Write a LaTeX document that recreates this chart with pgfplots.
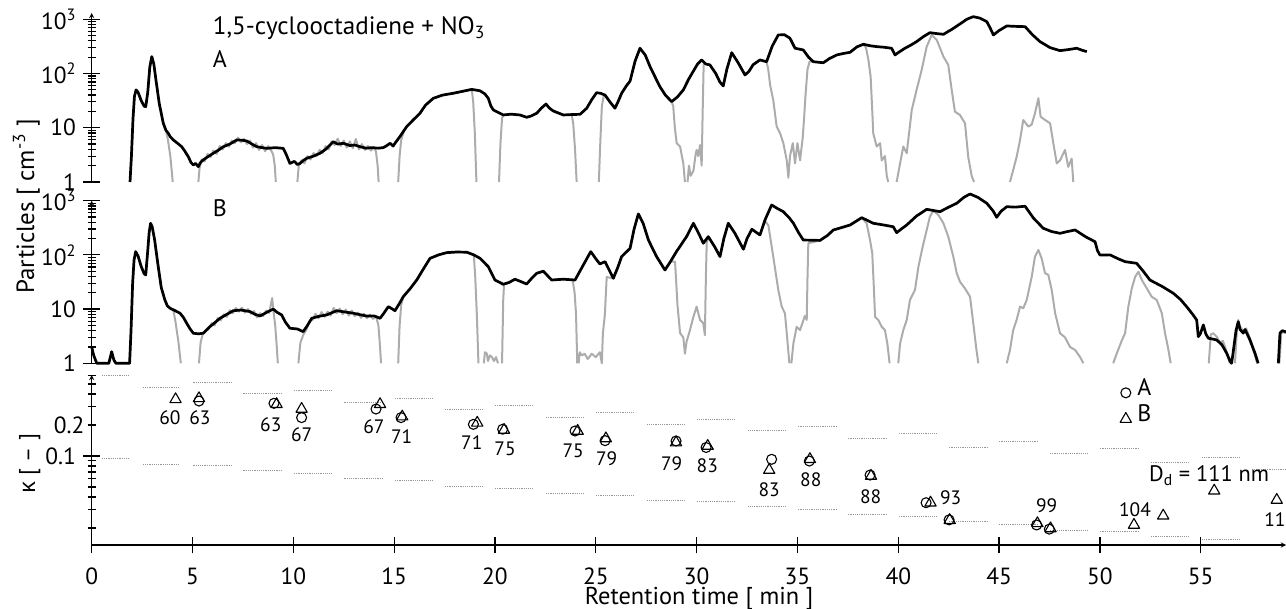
\documentclass[border=0pt]{standalone}
\usepackage{pgfplots}
\pgfplotsset{compat=1.18}
\usepackage{fontspec}
\setmainfont{PT Sans}
\newfontfamily\grk{Open Sans}
\definecolor{lgray}{RGB}{172,172,172}
\definecolor{dgray}{RGB}{150,150,150}
\newcommand{\fs}[1]{\fontsize{#1}{#1}\selectfont}
\pgfplotsset{
  every axis/.append style={
    scale only axis, width=1194.3bp, xmin=0, xmax=59.23,
    tick label style={font=\fs{23.5}},
    yticklabel style={inner sep=1bp, xshift=-6bp},
    axis line style={line width=1.3bp,-},
    tick style={line width=1.2bp, black},
    tick align=inside,
    clip=false,
    unbounded coords=jump,
  },
  every axis plot/.append style={line join=round},
}
\tikzset{
  blk/.style={black, line width=2.7bp},
  gry/.style={lgray, line width=2.0bp},
}
\begin{document}
\begin{tikzpicture}[x=1bp,y=1bp]
% ---------------- Panel A ----------------
\begin{axis}[at={(91.7bp,427bp)}, anchor=south west, height=169bp,
    ymode=log, ymin=1, ymax=1306,
    axis x line=none, axis y line=left,
    xtick=\empty,
    ytick={1,10,100,1000},
    yticklabels={1,10,10\textsuperscript{2},10\textsuperscript{3}},
    minor ytick={2,3,4,5,6,7,8,9,20,30,40,50,60,70,80,90,200,300,400,500,600,700,800,900},
    major tick length=17bp, minor tick length=8bp]
\addplot[gry, no marks] coordinates {
(1.9,1)(1.97,3)(2.05,15)(2.12,38)(2.2,50)(2.3,45)(2.45,32)(2.6,25)(2.68,24.5)(2.78,45)(2.88,130)(2.98,205)(3.08,150)(3.2,70)(3.35,28)(3.55,12.1)(3.68,9)(3.78,6)(3.9,3)(4.02,1)
(4.05,nan)
(5.29,1)(5.35,1.8)(5.45,2.6)(5.6,2.4)(5.75,3.3)(5.9,2.9)(6.03,3.8)(6.2,3.3)(6.35,4.6)(6.5,4.0)(6.65,5.2)(6.8,4.5)(6.95,5.8)(7.1,5.2)(7.25,6.6)(7.4,5.4)(7.55,6.2)(7.7,5.0)(7.85,5.8)(8.0,4.3)(8.15,5.2)(8.3,3.9)(8.45,4.8)(8.6,3.7)(8.75,4.6)(8.9,3.8)(9.0,3.2)(9.08,2)(9.13,1)
(9.2,nan)
(10.2,1)(10.27,2.0)(10.4,2.5)(10.55,2.2)(10.7,3.0)(10.85,2.6)(11.0,3.4)(11.15,3.0)(11.3,3.9)(11.45,3.4)(11.6,4.6)(11.75,4.0)(11.9,5.6)(12.05,4.8)(12.2,6.3)(12.35,4.6)(12.5,5.8)(12.65,4.3)(12.8,5.6)(12.95,4.2)(13.1,6.2)(13.25,4.0)(13.4,5.0)(13.55,3.9)(13.7,4.6)(13.85,3.8)(14.0,4.4)(14.1,3.6)(14.18,2)(14.23,1)
(14.3,nan)
(15.2,1)(15.27,3)(15.35,6)(15.5,9)(15.62,10.5)(15.95,14)(16.28,18.5)(16.55,26)(16.94,34.9)(17.4,40)(17.93,43.2)(18.4,47)(18.85,51)(18.92,30)(19.0,8)(19.08,1)
(19.1,nan)
(20.2,1)(20.27,5)(20.35,15)(20.41,17.2)(20.8,17.8)(21.24,17.2)(21.57,15.6)(21.8,16.5)(22.07,18.5)(22.3,23)(22.53,27.4)(22.7,23)(22.89,20.4)(23.39,17.2)(23.8,17.5)(23.88,12)(23.97,4)(24.05,1)
(24.1,nan)
(25.15,1)(25.22,5)(25.3,25)(25.4,40)(25.46,40)(25.7,30)(25.95,22.9)(26.1,30)(26.28,43.2)(26.5,58)(26.7,72.8)(26.95,170)(27.19,292)(27.45,220)(27.69,134)(27.95,85)(28.18,57.2)(28.45,40)(28.76,30.3)(28.84,25)(28.92,10)(29.01,5.2)(29.18,4.5)(29.34,2.2)(29.42,1)
(29.5,nan)
(29.55,1)(29.62,2.0)(29.7,1.3)(29.84,1.6)(29.95,3.2)(30.0,3.9)(30.08,3.0)(30.17,4.8)(30.25,2.0)(30.3,20)(30.35,150)(30.45,150)(30.66,144)(30.95,100)(31.15,70)(31.32,59)(31.5,120)(31.74,242)(32.05,160)(32.4,94)(32.6,110)(32.8,145)(33.14,178)(33.47,165)(33.55,120)(33.65,60)(33.8,32.5)(33.97,10.5)(34.14,7.9)(34.3,5.2)(34.47,2.5)(34.55,1.2)(34.63,3)(34.77,5.2)(34.88,2.2)(35.0,5.2)(35.13,2.5)(35.26,6.5)(35.33,15)(35.4,40)(35.5,120)(35.6,165)(35.79,165)(36.28,158)(36.6,190)(36.95,220)(37.3,235)(37.61,246)(37.95,310)(38.27,346)(38.4,300)(38.52,178)(38.63,87)(38.7,25)(38.76,7.9)(38.93,4.5)(39.1,5.2)(39.18,2.5)(39.34,3.0)(39.43,1.3)(39.5,1)
(39.6,nan)
(39.92,1)(40.09,2.2)(40.25,4.5)(40.42,3.4)(40.67,21.3)(40.91,50)(41.16,116)(41.41,313)(41.66,514)(41.91,415)(42.24,205)(42.48,144)(42.65,50)(42.81,19.8)(43.06,17.2)(43.31,12.1)(43.47,2.9)(43.64,1.3)(43.76,1)
(43.8,nan)
(45.54,1)(45.7,1.66)(45.87,2.9)(46.04,5.95)(46.2,13.9)(46.45,10.5)(46.62,11.5)(46.78,18.5)(46.95,35)(47.06,16)(47.28,13.9)(47.53,12.1)(47.69,5.2)(47.86,2.2)(48.02,2.5)(48.27,3.9)(48.43,1.9)(48.6,2.7)(48.68,1)
};
\addplot[blk, no marks] coordinates {
(1.9,1)(1.97,3)(2.05,15)(2.12,38)(2.2,50)(2.3,45)(2.45,32)(2.6,25)(2.68,24.5)(2.78,45)(2.88,130)(2.98,205)(3.08,150)(3.2,70)(3.35,28)(3.55,12.1)(3.68,9)(3.8,7.9)(3.9,6.8)(4.05,5.95)(4.25,5.2)(4.46,4.48)(4.6,3.8)(4.79,2.93)(4.92,2.3)(5.04,2.06)(5.15,2.2)(5.29,1.92)(5.4,2.3)(5.53,2.55)(5.75,2.9)(6.03,3.38)(6.3,3.9)(6.53,4.48)(6.85,5.0)(7.19,5.95)(7.45,5.9)(7.69,5.7)(7.95,5.0)(8.18,4.48)(8.45,4.3)(8.68,4.17)(9.1,4.3)(9.5,4.17)(9.65,3.2)(9.83,2.2)(10.05,2.4)(10.2,2.1)(10.33,2.2)(10.5,2.5)(10.66,2.73)(11.0,3.0)(11.32,3.38)(11.6,4.0)(11.98,5.53)(12.2,5.0)(12.48,5.17)(12.8,4.7)(13.05,4.8)(13.3,4.48)(13.6,4.2)(13.9,4.3)(14.2,4.2)(14.46,4.3)(14.6,4.6)(14.8,5.17)(14.95,4.6)(15.04,5.17)(15.3,7)(15.62,10.5)(15.95,14)(16.28,18.5)(16.55,26)(16.94,34.9)(17.4,40)(17.93,43.2)(18.4,47)(18.85,51)(19.26,48)(19.5,42)(19.67,34.9)(19.8,25)(19.92,21.3)(20.41,17.2)(20.8,17.8)(21.24,17.2)(21.57,15.6)(21.8,16.5)(22.07,18.5)(22.3,23)(22.53,27.4)(22.7,23)(22.89,20.4)(23.39,17.2)(23.8,17.5)(24.22,17.7)(24.55,22.9)(24.8,33)(25.04,44.3)(25.25,43)(25.46,40)(25.7,30)(25.95,22.9)(26.1,30)(26.28,43.2)(26.5,58)(26.7,72.8)(26.95,170)(27.19,292)(27.45,220)(27.69,134)(27.95,85)(28.18,57.2)(28.45,40)(28.76,30.3)(29.05,37)(29.34,49.8)(29.6,78)(29.84,111)(30.05,150)(30.25,178)(30.45,150)(30.66,144)(30.95,100)(31.15,70)(31.32,59)(31.5,120)(31.74,242)(32.05,160)(32.4,94)(32.6,110)(32.8,145)(33.14,178)(33.47,165)(33.75,320)(34.05,514)(34.35,520)(34.63,447)(34.88,292)(35.29,272)(35.55,200)(35.79,165)(36.28,158)(36.6,190)(36.95,220)(37.3,235)(37.61,246)(37.95,310)(38.27,346)(38.6,325)(38.93,313)(39.3,305)(39.67,292)(39.84,220)(40.05,250)(40.33,292)(40.6,330)(40.91,387)(41.25,480)(41.57,566)(41.9,545)(42.24,528)(42.65,650)(43.06,819)(43.4,1000)(43.72,1117)(44.05,1050)(44.39,904)(44.55,700)(44.72,514)(45.0,620)(45.38,753)(45.8,740)(46.29,731)(46.65,520)(47.03,387)(47.53,300)(48.02,264)(48.4,275)(48.85,292)(49.1,270)(49.35,253)
};
\end{axis}
% ---------------- Panel B ----------------
\begin{axis}[at={(91.7bp,245.7bp)}, anchor=south west, height=162.6bp,
    ymode=log, ymin=1, ymax=1000,
    axis x line=none, axis y line=left,
    xtick=\empty,
    ytick={1,10,100,1000},
    yticklabels={1,10,10\textsuperscript{2},10\textsuperscript{3}},
    minor ytick={2,3,4,5,6,7,8,9,20,30,40,50,60,70,80,90,200,300,400,500,600,700,800,900},
    major tick length=17bp, minor tick length=8bp]
\addplot[gry, no marks] coordinates {
(1.88,1)(1.95,4)(2.03,30)(2.1,80)(2.18,115)(2.3,95)(2.45,62)(2.6,45)(2.68,42.7)(2.78,120)(2.85,260)(2.92,383)(3.0,330)(3.12,190)(3.3,60.5)(3.45,25)(3.63,14.7)(3.75,11.5)(3.88,10.4)(4.05,9.5)(4.15,6)(4.3,2.5)(4.42,1)
(4.5,nan)
(5.32,1)(5.4,2.4)(5.5,3.4)(5.65,3.9)(5.8,4.3)(5.95,5.5)(6.1,5.0)(6.25,6.8)(6.4,6.2)(6.55,8.0)(6.7,7.2)(6.85,9.5)(7.0,8.4)(7.15,10.5)(7.3,9.0)(7.45,10.6)(7.6,8.6)(7.75,10.0)(7.9,8.2)(8.05,9.2)(8.2,7.0)(8.35,8.4)(8.5,7.4)(8.65,9.4)(8.8,8.5)(8.95,16)(9.02,9)(9.1,5)(9.18,2)(9.23,1)
(9.3,nan)
(10.25,1)(10.35,2.4)(10.5,3.4)(10.65,4.2)(10.8,6.0)(10.95,6.3)(11.1,8.2)(11.25,6.8)(11.4,8.8)(11.55,7.2)(11.7,9.0)(11.85,7.6)(12.0,10.5)(12.15,8.4)(12.3,10.2)(12.45,8.0)(12.6,9.8)(12.75,7.6)(12.9,9.4)(13.05,7.4)(13.2,8.6)(13.35,6.9)(13.5,8.2)(13.65,6.8)(13.8,7.9)(13.95,6.6)(14.1,7.4)(14.22,5)(14.3,2)(14.35,1)
(14.4,nan)
(15.2,1)(15.27,5)(15.35,12)(15.45,16.9)(15.8,24)(16.12,34.4)(16.45,55)(16.78,86.5)(17.2,100)(17.6,110)(18.1,113)(18.6,112)(18.95,100)(19.02,40)(19.1,8)(19.18,1)
(19.3,nan)
(19.45,1)(19.5,1.6)(19.6,1.5)(19.65,1.1)(19.75,1.4)(19.85,1.3)(19.95,1.1)(20.05,1.3)(20.15,1)
(20.2,nan)
(20.35,1)(20.41,15)(20.45,28.7)(20.7,31)(20.99,35.6)(21.3,32)(21.57,29)(21.85,38)(22.07,45.8)(22.4,50)(22.81,34.4)(23.39,35.6)(23.85,34.4)(23.95,20)(24.02,8)(24.08,1)
(24.1,nan)
(24.15,1)(24.2,1.6)(24.3,1.4)(24.45,1.5)(24.6,1.2)(24.8,1.5)(25.0,1.3)(25.2,1.6)(25.3,1)(25.35,3.5)(25.45,8)(25.54,39)(25.87,37)(26.1,60)(26.28,93)(26.7,132)(26.9,300)(27.11,569)(27.35,380)(27.61,188)(28.0,95)(28.43,52.6)(28.7,75)(28.93,75)(29.05,12)(29.18,3.6)(29.34,3.0)(29.42,1.5)(29.5,2.5)(29.67,4.1)(29.84,7.2)(30.0,11.1)(30.17,6.3)(30.33,5.5)(30.41,3.3)(30.46,40)(30.5,164)(30.58,217)(30.9,140)(31.16,93)(31.35,200)(31.57,383)(31.9,250)(32.32,127)(32.5,200)(32.74,297)(33.14,233)(33.4,420)(33.56,350)(33.68,180)(33.8,93)(34.05,22.6)(34.22,11.1)(34.38,8.4)(34.47,3.6)(34.6,1)
(34.65,nan)
(34.7,1)(34.8,2.34)(34.96,4.7)(35.13,4.1)(35.37,7.5)(35.46,6.3)(35.5,40)(35.54,164)(36.12,185)(36.5,230)(36.78,288)(37.2,320)(37.61,356)(38.19,486)(38.43,383)(38.6,188)(38.71,107)(38.78,30)(38.85,7.2)(39.01,6.3)(39.18,4.7)(39.34,4.1)(39.46,2.3)(39.57,1)
(39.7,nan)
(40.0,1)(40.09,2.3)(40.25,4.1)(40.42,6.3)(40.58,14.7)(40.83,22.6)(41.0,60.5)(41.21,141)(41.41,288)(41.57,508)(41.74,654)(41.99,545)(42.24,383)(42.48,217)(42.73,93)(42.9,45.8)(43.06,32)(43.31,24)(43.56,16.9)(43.72,5.5)(43.86,2.0)(43.97,1)
(44.1,nan)
(45.38,1)(45.54,1.76)(45.7,4.1)(45.87,6.3)(46.04,11.1)(46.2,10.4)(46.37,14.7)(46.62,39.6)(46.78,93)(46.95,123)(47.11,86.5)(47.28,45.8)(47.44,43)(47.61,22.6)(47.78,8.4)(48.02,3.6)(48.27,3.0)(48.52,2.0)(48.77,1.76)(49.02,1.3)(49.18,1)
(49.3,nan)
(50.66,1)(50.83,1.5)(51.08,2.6)(51.25,3.6)(51.41,11.1)(51.58,24)(51.75,39.6)(51.91,49)(52.08,34.4)(52.33,24)(52.57,16.9)(52.82,14.7)(53.07,8.4)(53.23,3.6)(53.4,1.76)(53.51,1)
(53.6,nan)
(55.4,1)(55.5,3.4)(55.62,3.6)(55.79,3.1)(55.95,2.4)(56.1,2.6)(56.29,1.6)(56.45,1)
(56.5,nan)
(56.7,1)(56.8,4.5)(56.86,6.3)(56.95,4.8)(57.11,3.9)(57.25,4.4)(57.44,2.9)(57.65,1.6)(57.8,1)
(57.9,nan)
(58.9,1)(59.0,3.8)(59.23,3.6)
};
\addplot[blk, no marks] coordinates {
(0,2.0)(0.1,1.4)(0.25,1)(0.85,1)(0.99,1.64)(1.1,1.15)(1.2,1)(1.88,1)(1.95,4)(2.03,30)(2.1,80)(2.18,115)(2.3,95)(2.45,62)(2.6,45)(2.68,42.7)(2.78,120)(2.85,260)(2.92,383)(3.0,330)(3.12,190)(3.3,60.5)(3.45,25)(3.63,14.7)(3.75,11.5)(3.88,10.4)(4.1,9.5)(4.38,8.4)(4.55,7.0)(4.71,5.5)(4.88,4.3)(5.04,3.58)(5.3,3.5)(5.53,3.58)(5.86,4.73)(6.1,5.6)(6.36,6.76)(6.7,8.0)(7.02,9.33)(7.4,9.6)(7.85,9.0)(8.1,8.0)(8.35,7.46)(8.7,8.8)(9.0,10)(9.2,8.7)(9.42,7.8)(9.6,5.8)(9.83,4.43)(10.2,4.3)(10.49,3.83)(10.7,5.0)(10.91,6.76)(11.3,7.4)(11.65,7.8)(12.15,9.33)(12.6,8.8)(12.97,8.4)(13.3,7.9)(13.63,7.46)(14.0,7.5)(14.3,6.76)(14.5,8.5)(14.71,11.1)(14.88,10.2)(15.04,9.33)(15.25,12.5)(15.45,16.9)(15.8,24)(16.12,34.4)(16.45,55)(16.78,86.5)(17.2,100)(17.6,110)(18.1,113)(18.6,112)(18.95,100)(19.26,86.5)(19.67,60.5)(20.0,34.4)(20.41,28.7)(20.7,31)(20.99,35.6)(21.3,32)(21.57,29)(21.85,38)(22.07,45.8)(22.4,50)(22.81,34.4)(23.39,35.6)(23.97,34.4)(24.38,65)(24.75,115)(25.0,85)(25.2,68)(25.46,75)(25.87,37)(26.1,60)(26.28,93)(26.7,132)(26.9,300)(27.11,569)(27.35,380)(27.61,188)(28.0,95)(28.43,52.6)(28.7,75)(29.0,115)(29.5,217)(29.84,383)(30.1,250)(30.33,164)(30.58,217)(30.9,140)(31.16,93)(31.35,200)(31.57,383)(31.9,250)(32.32,127)(32.5,200)(32.74,297)(33.14,233)(33.4,450)(33.72,833)(34.0,720)(34.3,627)(34.6,480)(34.8,383)(35.05,260)(35.29,188)(36.12,185)(36.5,230)(36.78,288)(37.2,320)(37.61,356)(38.19,486)(38.76,383)(39.3,355)(39.75,331)(39.92,257)(40.15,300)(40.42,356)(40.9,520)(41.41,693)(42.07,627)(42.5,760)(42.9,896)(43.25,1150)(43.56,1330)(43.95,1150)(44.39,896)(44.7,650)(44.88,494)(45.1,640)(45.38,775)(45.8,760)(46.29,790)(46.7,480)(47.19,310)(47.6,270)(48.02,250)(48.4,270)(48.77,288)(49.3,215)(49.76,175)(49.88,120)(50.0,99.6)(50.5,100)(50.9,85)(51.25,75)(51.82,70)(52.15,50)(52.48,34.4)(53.1,26)(53.64,19.6)(54.0,15)(54.3,11.1)(54.6,8)(54.8,6.3)(54.88,3.1)(54.98,3.5)(55.13,5.1)(55.25,3.5)(55.38,2.9)(55.79,2.7)(56.05,2.2)(56.29,1.53)(56.45,1.1)(56.53,1)(56.6,1.5)(56.75,4)(56.86,5.86)(56.95,4.2)(57.11,3.6)(57.2,4.2)(57.44,2.7)(57.7,1.5)(57.85,1)
(58.0,nan)
(58.85,1)(58.93,3.6)(59.05,4)(59.23,3.8)
};
\end{axis}
% ---------------- kappa panel ----------------
\begin{axis}[at={(91.7bp,64bp)}, anchor=south west, height=170bp,
  ymode=log, ymin=0.01368, ymax=0.612,
  axis x line=bottom, axis y line=left,
  xtick={0,5,10,15,20,25,30,35,40,45,50,55},
  xticklabels={0,5,10,15,20,25,30,35,40,45,50,55},
  xticklabel style={anchor=base, yshift=-31bp, inner sep=1bp},
  ytick={0.1}, yticklabels={0.1},
  minor ytick={0.02,0.03,0.04,0.05,0.06,0.07,0.08,0.09,0.2,0.3,0.4,0.5,0.6},
  extra y ticks={0.2}, extra y tick labels={0.2},
  extra y tick style={major tick length=0bp},
  major tick length=17bp, minor tick length=8bp,
  legend style={draw=none, fill=none, at={(0.861,0.98)}, anchor=north west,
    font=\fs{24}, row sep=7bp, column sep=6bp, inner sep=0pt, nodes={inner sep=0pt}},
  legend cell align=left,
  legend image code/.code={\draw[#1] plot coordinates {(0bp,-5bp)};},
]
\addplot[forget plot, dgray, line width=0.6bp, dash pattern=on 1.2bp off 1bp] coordinates {
(0.5,0.602)(1.9,0.602)(2,nan)(2.53,0.464)(4.38,0.464)(4.5,nan)(5.04,0.52)(6.91,0.52)(7,nan)(7.52,0.406)(9.42,0.406)(9.5,nan)(10.03,0.431)(11.9,0.431)(12,nan)(12.53,0.332)(14.43,0.332)(14.5,nan)(15.04,0.363)(16.9,0.363)(17,nan)(17.52,0.284)(19.42,0.284)(19.5,nan)(20.0,0.308)(21.9,0.308)(22,nan)(22.53,0.238)(24.41,0.238)(24.5,nan)(25.01,0.266)(26.91,0.266)(27,nan)(27.52,0.203)(29.42,0.203)(29.5,nan)(30.0,0.227)(31.9,0.227)(32,nan)(32.53,0.179)(34.42,0.179)(34.5,nan)(35.04,0.193)(36.95,0.193)(37,nan)(37.52,0.149)(39.42,0.149)(39.5,nan)(40.04,0.166)(41.94,0.166)(42,nan)(42.53,0.1215)(44.44,0.1215)(44.5,nan)(45.01,0.138)(46.92,0.138)(47,nan)(47.53,0.106)(49.43,0.106)(49.5,nan)(50.01,0.119)(51.91,0.119)(52,nan)(52.53,0.0869)(54.43,0.0869)(54.5,nan)(55.05,0.0971)(56.95,0.0971)(57,nan)(57.53,0.0748)(59.23,0.0748)
};
\addplot[forget plot, dgray, line width=0.6bp, dash pattern=on 1.2bp off 1bp] coordinates {
(0.5,0.095)(1.9,0.095)(2,nan)(2.53,0.083)(4.38,0.083)(4.5,nan)(5.04,0.0818)(6.91,0.0818)(7,nan)(7.52,0.072)(9.42,0.072)(9.5,nan)(10.03,0.068)(11.9,0.068)(12,nan)(12.53,0.0608)(14.43,0.0608)(14.5,nan)(15.04,0.0585)(16.9,0.0585)(17,nan)(17.52,0.0504)(19.42,0.0504)(19.5,nan)(20.0,0.0486)(21.9,0.0486)(22,nan)(22.53,0.0435)(24.41,0.0435)(24.5,nan)(25.01,0.0418)(26.91,0.0418)(27,nan)(27.52,0.0374)(29.42,0.0374)(29.5,nan)(30.0,0.036)(31.9,0.036)(32,nan)(32.53,0.0327)(34.42,0.0327)(34.5,nan)(35.04,0.0306)(36.95,0.0306)(37,nan)(37.52,0.0272)(39.42,0.0272)(39.5,nan)(40.04,0.0262)(41.94,0.0262)(42,nan)(42.53,0.023)(44.44,0.023)(44.5,nan)(45.01,0.0217)(46.92,0.0217)(47,nan)(47.53,0.0191)(49.43,0.0191)(49.5,nan)(50.01,0.0184)(51.91,0.0184)(52,nan)(52.53,0.0167)(54.43,0.0167)(54.5,nan)(55.05,0.0155)(56.95,0.0155)
};
\addplot[only marks, mark=o, mark size=5bp, mark options={line width=1.1bp, black}] coordinates {
(5.32,0.342)(9.04,0.325)(10.41,0.236)(14.1,0.286)(15.34,0.236)(18.93,0.203)(20.38,0.182)(23.97,0.175)(25.46,0.141)(28.98,0.140)(30.47,0.121)(33.72,0.0929)(35.59,0.0894)(38.6,0.0654)(41.38,0.0352)(42.52,0.024)(46.86,0.0214)(47.49,0.0195)
};
\addplot[only marks, mark=triangle, mark size=6.5bp, mark options={line width=1.1bp, black}] coordinates {
(4.16,0.355)(5.32,0.363)(9.17,0.318)(10.41,0.286)(14.3,0.318)(15.4,0.241)(19.12,0.21)(20.45,0.179)(24.1,0.175)(25.5,0.148)(28.98,0.135)(30.55,0.125)(33.6,0.0731)(35.62,0.093)(38.65,0.064)(41.6,0.0352)(42.55,0.0238)(46.9,0.0222)(47.55,0.0198)(51.69,0.0214)(53.14,0.0263)(55.67,0.046)(58.77,0.0374)
};
\legend{A,B}
\node[font=\fs{19.5}, inner sep=0pt] at (axis cs:3.88,0.234) {60};
\node[font=\fs{19.5}, inner sep=0pt] at (axis cs:5.37,0.234) {63};
\node[font=\fs{19.5}, inner sep=0pt] at (axis cs:8.88,0.2) {63};
\node[font=\fs{19.5}, inner sep=0pt] at (axis cs:10.41,0.16) {67};
\node[font=\fs{19.5}, inner sep=0pt] at (axis cs:14.0,0.191) {67};
\node[font=\fs{19.5}, inner sep=0pt] at (axis cs:15.37,0.154) {71};
\node[font=\fs{19.5}, inner sep=0pt] at (axis cs:18.85,0.1347) {71};
\node[font=\fs{19.5}, inner sep=0pt] at (axis cs:20.5,0.117) {75};
\node[font=\fs{19.5}, inner sep=0pt] at (axis cs:23.88,0.112) {75};
\node[font=\fs{19.5}, inner sep=0pt] at (axis cs:25.54,0.095) {79};
\node[font=\fs{19.5}, inner sep=0pt] at (axis cs:28.76,0.085) {79};
\node[font=\fs{19.5}, inner sep=0pt] at (axis cs:30.53,0.0806) {83};
\node[font=\fs{19.5}, inner sep=0pt] at (axis cs:33.6,0.0468) {83};
\node[font=\fs{19.5}, inner sep=0pt] at (axis cs:35.66,0.0594) {88};
\node[font=\fs{19.5}, inner sep=0pt] at (axis cs:38.63,0.0403) {88};
\node[font=\fs{19.5}, inner sep=0pt] at (axis cs:42.6,0.0397) {93};
\node[font=\fs{19.5}, inner sep=0pt] at (axis cs:47.36,0.0327) {99};
\node[font=\fs{19.5}, inner sep=0pt] at (axis cs:51.74,0.0304) {104};
\node[font=\fs{19.5}, inner sep=0pt] at (axis cs:58.94,0.024) {111};
\node[font=\fs{22.5}, inner sep=0pt] at (axis cs:55.42,0.064) {D\textsubscript{d} = 111 nm};
\end{axis}
% ---------------- texts ----------------
\node[anchor=base west, font=\fs{25.2}, inner sep=0pt] at (212.7,574) {1,5-cyclooctadiene + NO\textsubscript{3}};
\node[anchor=base west, font=\fs{24}, inner sep=0pt] at (212.7,541.3) {A};
\node[anchor=base west, font=\fs{24}, inner sep=0pt] at (212.7,392.3) {B};
\node[rotate=90, anchor=base, font=\fs{25}, inner sep=0pt] at (34,402.5) {Particles [ cm\textsuperscript{-3} ]};
\node[rotate=90, anchor=base, font=\fs{23}, inner sep=0pt] at (35,145.5) {{\grk κ} [ – ]};
\node[anchor=base, font=\fs{24.5}, inner sep=0pt] at (699,4.5) {Retention time [ min ]};
\pgfresetboundingbox
\path[use as bounding box] (0,0) rectangle (1286,609);
\end{tikzpicture}
\end{document}
